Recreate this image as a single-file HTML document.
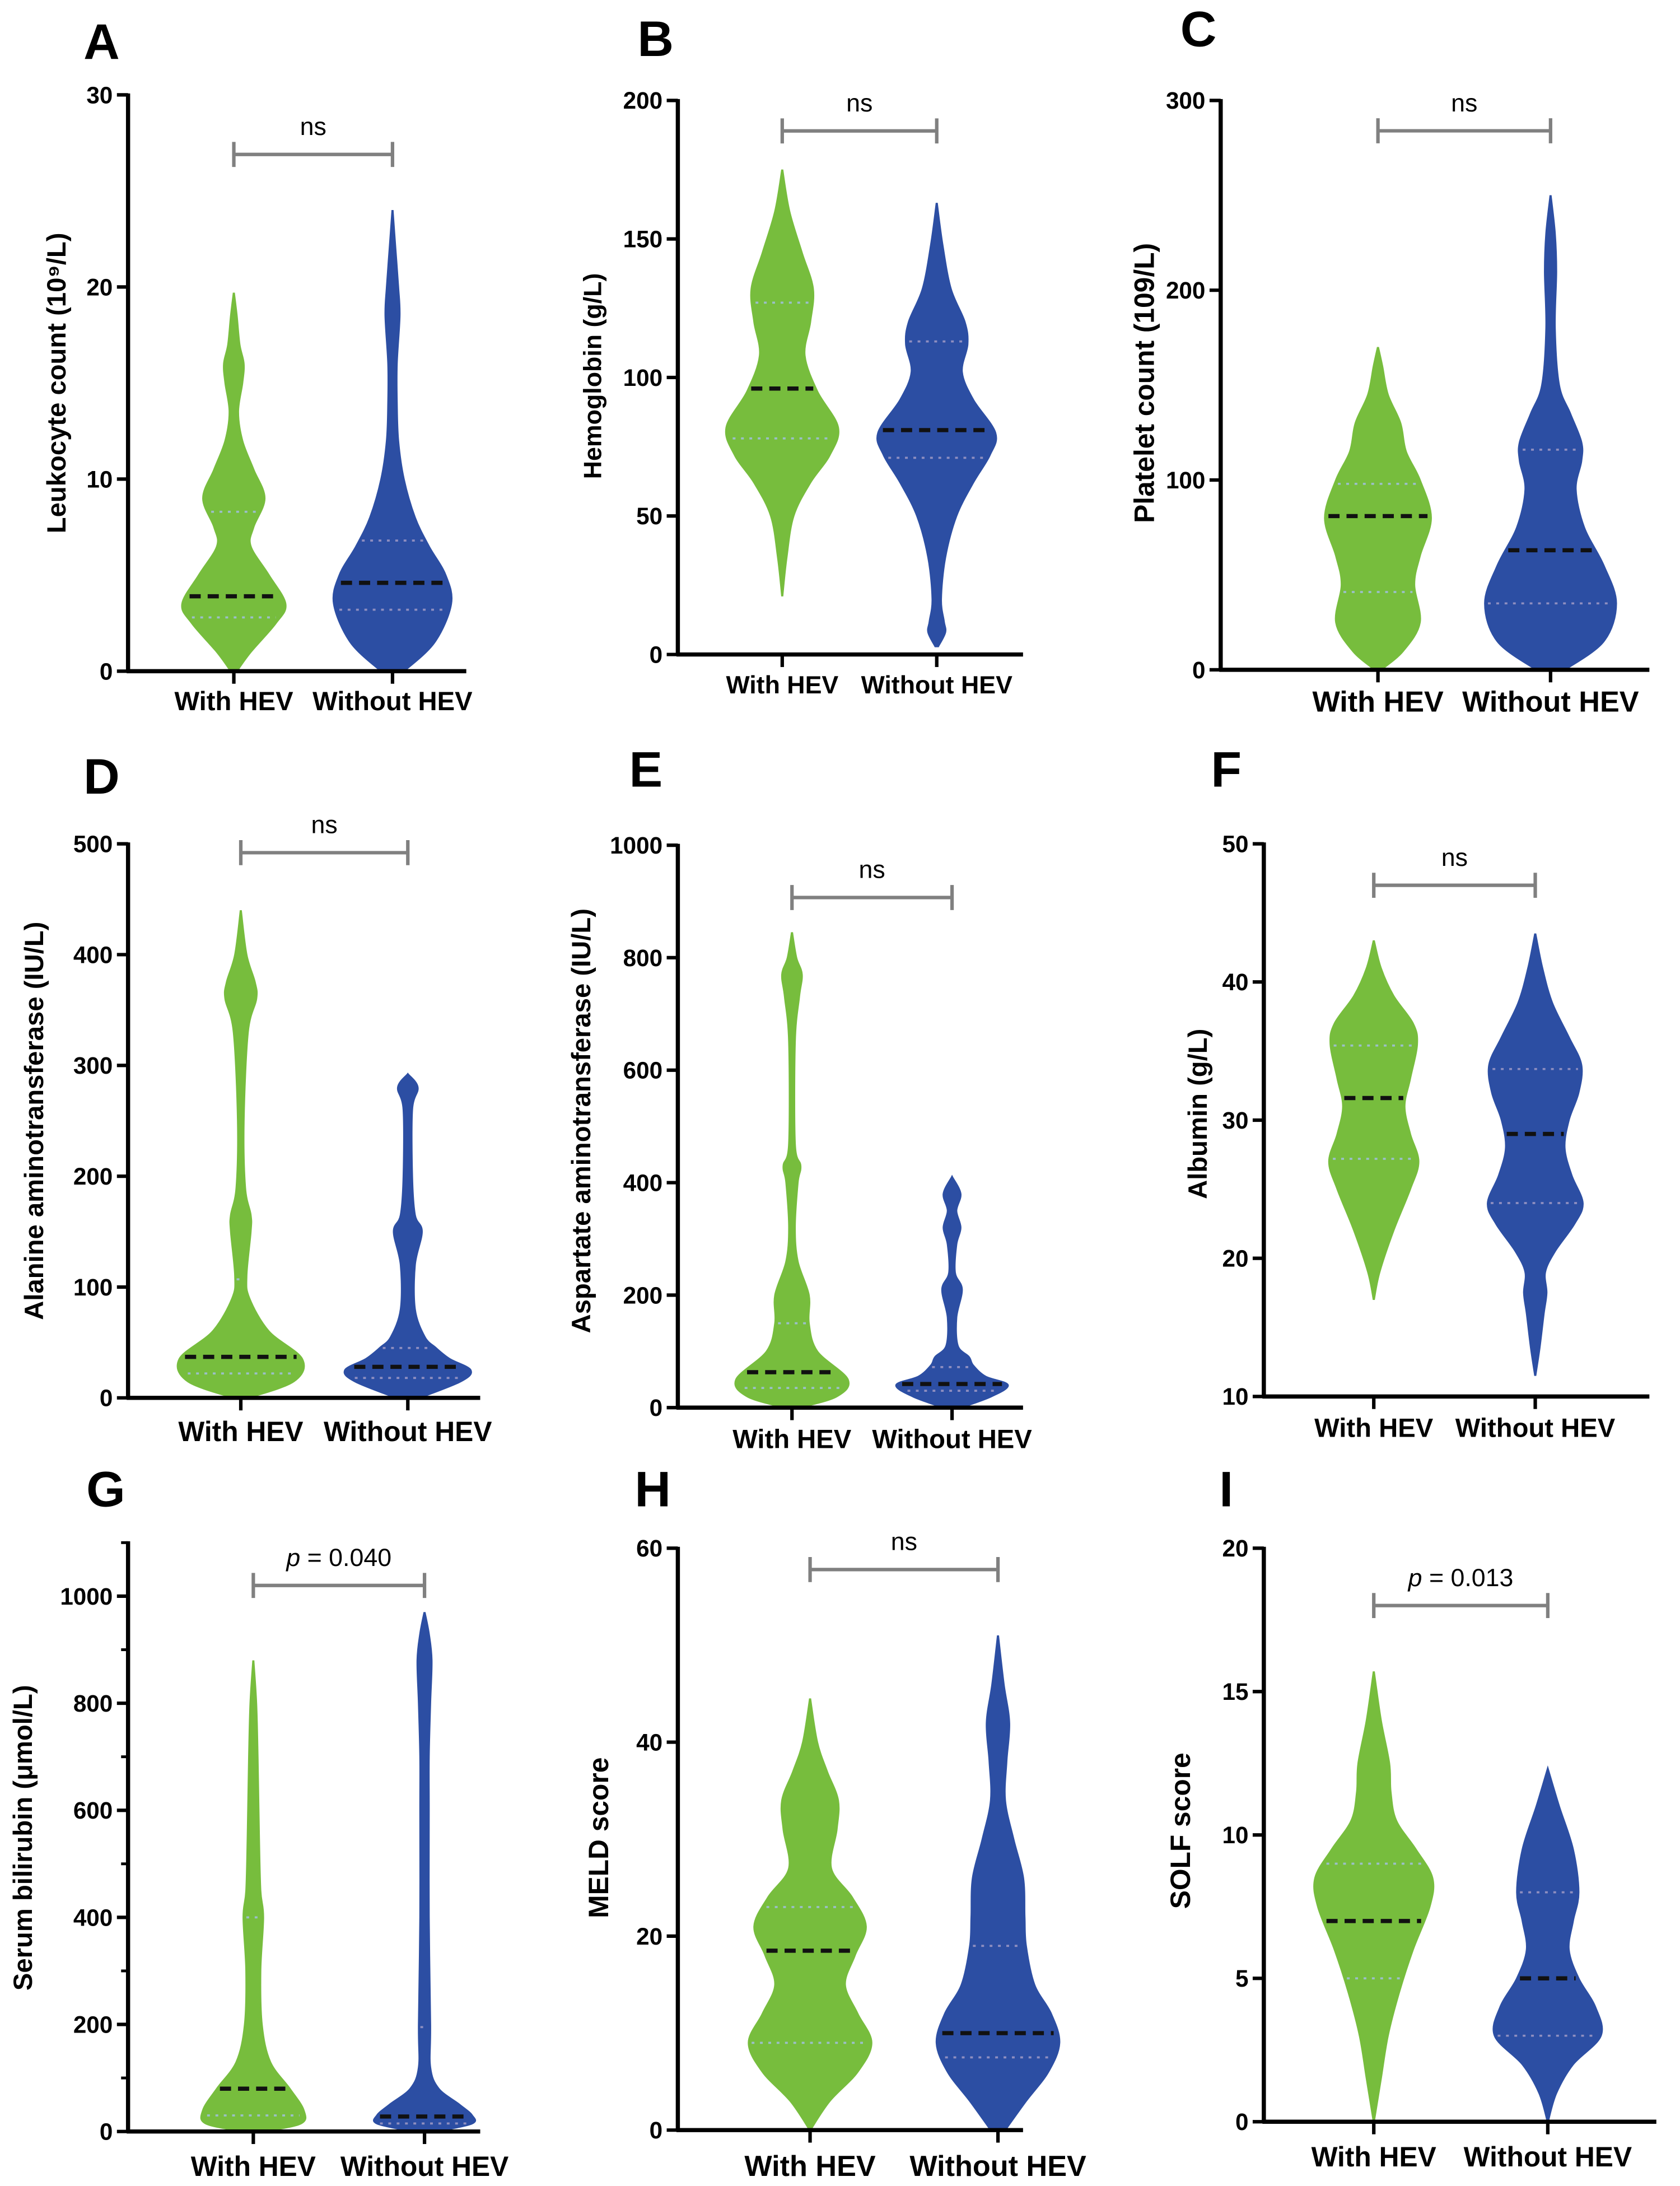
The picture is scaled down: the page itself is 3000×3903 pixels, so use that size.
<!DOCTYPE html>
<html><head><meta charset="utf-8"><style>
html,body{margin:0;padding:0;background:#fff;}
svg{display:block;}
text{font-family:"Liberation Sans",sans-serif;}
</style></head><body>
<svg id="fig" xmlns="http://www.w3.org/2000/svg" width="3000" height="3903" viewBox="0 0 1207 1570"></svg>
<script>
// Data: each panel's values (violin density profiles are [value, relative density])
const panelLetters = ["A","B","C","D","E","F","G","H","I"];
const yTitles = ["Leukocyte count (10⁹/L)","Hemoglobin (g/L)","Platelet count (109/L)","Alanine aminotransferase (IU/L)","Aspartate aminotransferase (IU/L)","Albumin (g/L)","Serum bilirubin (μmol/L)","MELD score","SOLF score"];
const categories = ["With HEV","Without HEV"];
const yMins = [0,0,0,0,0,10,0,0,0];
const yMaxs = [30,200,300,500,1000,50,1100,60,20];
const yTickLabels = [[0,10,20,30],[0,50,100,150,200],[0,100,200,300],[0,100,200,300,400,500],[0,200,400,600,800,1000],[10,20,30,40,50],[0,200,400,600,800,1000],[0,20,40,60],[0,5,10,15,20]];
const sigLabels = ["ns","ns","ns","ns","ns","ns","p = 0.040","ns","p = 0.013"];
const sigValues = [26.9,189,284,492,907,47,1020,57.8,18];
const medians = [[3.9,4.6],[96,81],[81,63],[37,28],[63,42],[31.6,29],[80,28],[18.5,10],[7,5]];
const q1s = [[2.8,3.2],[78,71],[41,35],[22,18],[35,30],[27.2,24],[30,15],[9,7.5],[5,3]];
const q3s = [[8.3,6.8],[127,113],[98,116],[107,45],[150,72],[35.4,33.7],[400,195],[23,19],[9,8]];
const greenProfiles = [
 [[0,2],[1,12],[2.5,30],[3.5,37],[5,25],[6.5,12],[7.5,14],[9,22],[10.5,14],[12,6],[13.5,3],[15,6],[16,7],[17,4],[18.5,2],[19.7,0]],
 [[21,0],[35,3],[50,8],[62,20],[72,34],[82,40],[95,25],[108,16],[120,20],[132,22],[145,14],[160,5],[175,0]],
 [[0,2],[10,18],[25,30],[45,26],[60,30],[80,38],[100,30],[115,20],[130,16],[145,7],[160,3],[170,0]],
 [[0,5],[15,38],[35,44],[60,20],[90,6],[110,4],[150,7],[165,7],[190,3],[250,2],[330,5],[360,11],[375,10],[400,4],[440,0]],
 [[0,5],[20,32],[50,40],[100,18],[150,12],[200,12],[260,4],[320,2],[400,4],[430,6],[470,2],[650,2],[730,5],[770,7],[800,3],[845,0]],
 [[17,0],[19,4],[22,14],[25,26],[27,32],[29,26],[31,22],[33,26],[35.5,31],[37,28],[39,14],[41,5],[43,0]],
 [[0,6],[15,34],[40,36],[80,26],[130,12],[200,6],[300,5],[400,7],[450,5],[550,4],[700,3],[800,2],[880,0]],
 [[0,0],[3,14],[6,34],[9,44],[12,34],[15,25],[18,32],[21,40],[24,30],[27,15],[31,19],[34,20],[37,12],[40,5],[44.5,0]],
 [[0,0],[1.5,5],[3,10],[4.5,18],[6,28],[7.5,40],[8.5,42],[9.5,30],[10.5,16],[11.5,12],[12.5,11],[14,5],[15.7,0]]
];
const blueProfiles = [
 [[0,8],[1.5,30],[3.5,42],[5,38],[6.5,26],[8,16],[10,8],[12,4],[14,3],[16,3],[18.5,5],[20,4],[22,2],[24,0]],
 [[3,1],[8,6],[12,5],[20,3],[35,6],[50,14],[62,26],[72,38],[80,42],[92,26],[102,18],[112,22],[120,20],[132,10],[148,4],[163,0]],
 [[0,10],[15,38],[35,47],[55,38],[75,24],[95,18],[110,22],[120,22],[135,14],[150,6],[180,3],[210,4],[230,3],[250,0]],
 [[0,8],[15,38],[25,45],[35,30],[45,20],[55,12],[80,5],[120,5],[150,10],[165,5],[200,3],[260,3],[280,7],[292,0]],
 [[0,6],[20,28],[40,40],[55,24],[75,15],[90,12],[110,4],[160,3],[210,7],[240,2],[290,3],[320,6],[350,3],[380,6],[410,0]],
 [[11.5,0],[13.5,3],[16,6],[17.5,8],[19,7],[20.5,14],[22.5,28],[24,34],[26,26],[28,21],[30,24],[32,31],[34,33],[36,24],[38.5,12],[41,5],[43.5,0]],
 [[0,8],[15,34],[30,34],[50,25],[80,10],[120,4],[200,4],[400,3],[600,3],[700,3],[800,4],[880,5],[930,3],[970,0]],
 [[0,5],[3,20],[6,36],[9,44],[12,38],[15,26],[19,20],[22,19],[26,18],[30,11],[34,5],[38,6],[42,8],[46,4],[51,0]],
 [[0,0],[1,6],[2,18],[3,38],[4,34],[5,22],[6,15],[7,18],[8,22],[9.5,18],[11,8],[12.3,0]]
];

// Layout (in 1207x1570 viewBox)
const L=[
 {ax:92,top:68,bot:482,right:335,c:[168,282],lab:[60,42],tx:40,ty:275,ly:510,fs:19,tf:19},
 {ax:487,top:72,bot:470,right:735,c:[562,673],lab:[458,40],tx:425,ty:270,ly:498,fs:18,tf:18},
 {ax:877,top:72,bot:481,right:1185,c:[990,1114],lab:[848,33],tx:822,ty:275,ly:511,fs:21,tf:20},
 {ax:92,top:606,bot:1004,right:345,c:[173,293],lab:[60,570],tx:24,ty:805,ly:1035,fs:20,tf:19},
 {ax:487,top:607,bot:1011,right:735,c:[569,684],lab:[452,565],tx:417,ty:805,ly:1040,fs:19,tf:19},
 {ax:908,top:606,bot:1003,right:1185,c:[987,1103],lab:[870,565],tx:860,ty:800,ly:1032,fs:19,tf:19},
 {ax:92,top:1108,bot:1531,right:345,c:[182,305],lab:[62,1082],tx:16,ty:1320,ly:1563,fs:20,tf:19,minor:100},
 {ax:487,top:1112,bot:1530,right:735,c:[582,717],lab:[456,1082],tx:430,ty:1320,ly:1563,fs:21,tf:20},
 {ax:908,top:1112,bot:1524,right:1190,c:[987,1112],lab:[876,1082],tx:848,ty:1315,ly:1556,fs:20,tf:20}
];
const colors=["#77bd3d","#2c4ea3"];
const NS="http://www.w3.org/2000/svg";
const svg=document.getElementById('fig');
function mk(tag,attrs,parent){const e=document.createElementNS(NS,tag);for(const k in attrs)e.setAttribute(k,attrs[k]);(parent||svg).appendChild(e);return e;}
function spline(pts){let d="M"+pts[0][0]+","+pts[0][1];for(let i=0;i<pts.length-1;i++){const p0=pts[Math.max(0,i-1)],p1=pts[i],p2=pts[i+1],p3=pts[Math.min(pts.length-1,i+2)];const t=6;d+=" C"+(p1[0]+(p2[0]-p0[0])/t)+","+(p1[1]+(p2[1]-p0[1])/t)+" "+(p2[0]-(p3[0]-p1[0])/t)+","+(p2[1]-(p3[1]-p1[1])/t)+" "+p2[0]+","+p2[1];}return d;}

panelLetters.forEach((letter,i)=>{
 const g=L[i];
 const grp=mk('g',{});
 
 
 const y=v=>g.bot-(v-yMins[i])/(yMaxs[i]-yMins[i])*(g.bot-g.top);
 const lt=mk('text',{x:g.lab[0],y:g.lab[1],'font-size':36,'font-weight':'bold'},grp);lt.textContent=letter;
 
 [greenProfiles[i],blueProfiles[i]].forEach((prof,s)=>{
  const cx=g.c[s];
  const right=prof.map(p=>[cx+p[1],y(p[0])]);
  const left=prof.slice().reverse().map(p=>[cx-p[1],y(p[0])]);
  const d=spline(right)+" L"+left[0][0]+","+left[0][1]+" "+spline(left).slice(1)+"Z";
  const v=mk('path',{d:d.replace(/ M/,' L'),fill:colors[s],stroke:colors[s],'stroke-width':1.5},grp);
  
  const hw=val=>{for(let k=0;k<prof.length-1;k++){if(val>=prof[k][0]&&val<=prof[k+1][0]){const t=(val-prof[k][0])/(prof[k+1][0]-prof[k][0]);return prof[k][1]+t*(prof[k+1][1]-prof[k][1]);}}return 0;};
  [q1s[i][s],q3s[i][s]].forEach(q=>{const w=Math.max(hw(q)-2,3);const l=mk('line',{x1:cx-w,x2:cx+w,y1:y(q),y2:y(q),stroke:s?'#8e8ec0':'#9bbfc8','stroke-width':1.5,'stroke-dasharray':'2 4'},grp);});
  const m=medians[i][s];const w=Math.max(hw(m)-2,4);
  const ml=mk('line',{x1:cx-w,x2:cx+w,y1:y(m),y2:y(m),stroke:'#111','stroke-width':3,'stroke-dasharray':'8 5'},grp);
  
 });
 const ya=mk('line',{x1:g.ax,x2:g.ax,y1:g.top-1,y2:g.bot,stroke:'#000','stroke-width':3},grp);
 
 const xa=mk('line',{x1:g.ax-1,x2:g.right,y1:g.bot,y2:g.bot,stroke:'#000','stroke-width':3},grp);
 
 if(g.minor){for(let v=yMins[i]+g.minor;v<=yMaxs[i];v+=2*g.minor){const t=mk('line',{x1:g.ax-5,x2:g.ax,y1:y(v),y2:y(v),stroke:'#000','stroke-width':2},grp);}}
 yTickLabels[i].forEach(v=>{
  const t=mk('line',{x1:g.ax-8,x2:g.ax,y1:y(v),y2:y(v),stroke:'#000','stroke-width':2.5},grp);
  
  const tl=mk('text',{x:g.ax-11,y:y(v)+6,'font-size':17,'font-weight':'bold','text-anchor':'end'},grp);tl.textContent=v;
  
 });
 categories.forEach((c,s)=>{
  const t=mk('line',{x1:g.c[s],x2:g.c[s],y1:g.bot,y2:g.bot+9,stroke:'#000','stroke-width':2.5},grp);
  
  const tl=mk('text',{x:g.c[s],y:g.ly,'font-size':g.fs,'font-weight':'bold','text-anchor':'middle'},grp);tl.textContent=c;
  
 });
 const tt=mk('text',{x:0,y:0,'font-size':g.tf,'font-weight':'bold','text-anchor':'middle',transform:'translate('+(g.tx+7)+','+g.ty+') rotate(-90)'},grp);tt.textContent=yTitles[i];
 
 const sy=y(sigValues[i]);
 const br=mk('path',{d:'M'+g.c[0]+','+(sy-9)+' V'+(sy+9)+' M'+g.c[0]+','+sy+' H'+g.c[1]+' M'+g.c[1]+','+(sy-9)+' V'+(sy+9),stroke:'#808080','stroke-width':2.5,fill:'none'},grp);
 
 const st=mk('text',{x:(g.c[0]+g.c[1])/2,y:sy-14,'font-size':18,'text-anchor':'middle'},grp);
 
 const lab=sigLabels[i];
 if(lab.startsWith('p')){const ti=mk('tspan',{'font-style':'italic'},st);ti.textContent='p';const r=mk('tspan',{},st);r.textContent=lab.slice(1);}
 else st.textContent=lab;
});
</script>
</body></html>
